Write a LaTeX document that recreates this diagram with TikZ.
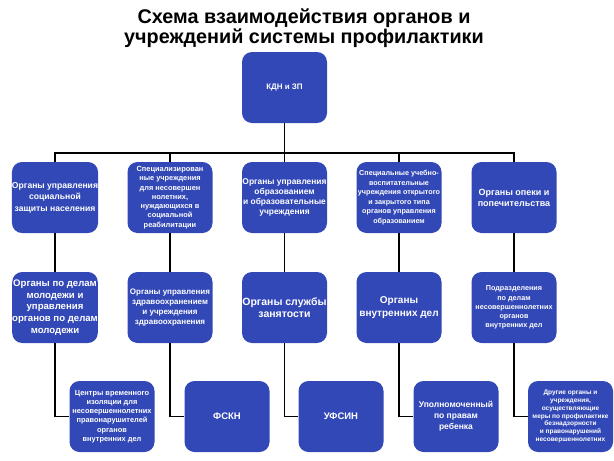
\documentclass[tikz,border=0pt]{standalone}
\usepackage{fontspec}
\setmainfont{Liberation Sans}
\usepackage{xcolor}
\usetikzlibrary{positioning}
\definecolor{boxblue}{RGB}{50,72,182}
\tikzset{
  orgbox/.style={rectangle,rounded corners=10pt,fill=boxblue,draw=none,
    minimum width=85pt,minimum height=71pt,inner sep=0pt,
    text=white,align=center,font=\bfseries},
  link/.style={draw=black,line width=1.8pt},
}
% #1 size, #2 leading
\newcommand{\bx}[2]{\fontsize{#1}{#2}\selectfont}
\begin{document}
\begin{tikzpicture}[x=1pt,y=-1pt]
  \useasboundingbox[fill=white] (0,0) rectangle (614,461);
  \node[align=center,font=\bfseries\fontsize{19.8}{16}\selectfont] (title) at (304,28)
    {Схема взаимодействия органов и\\учреждений системы профилактики};
  \node[orgbox,font=\bfseries\bx{8}{10}] (kdn) at (284.5,87.5) {КДН и ЗП};
  % first row
  \node[orgbox,font=\bfseries\bx{8.6}{11.5}] (a1) at (55,197.5)
    {Органы управления\\социальной\\защиты населения};
  \node[orgbox,font=\bfseries\bx{7.4}{9.3}] (a2) at (170,197.5)
    {Специализирован\\ные учреждения\\для несовершен\\нолетних,\\нуждающихся в\\социальной\\реабилитации};
  \node[orgbox,font=\bfseries\bx{8.4}{10}] (a3) at (284.5,197.5)
    {Органы управления\\образованием\\и образовательные\\учреждения};
  \node[orgbox,font=\bfseries\bx{7.2}{9.5}] (a4) at (399,197.5)
    {Специальные учебно-\\воспитательные\\учреждения открытого\\и закрытого типа\\органов управления\\образованием};
  \node[orgbox,font=\bfseries\bx{9}{11}] (a5) at (514,197.5)
    {Органы опеки и\\попечительства};
  % second row
  \node[orgbox,font=\bfseries\bx{9.6}{11.8}] (b1) at (55,307.5)
    {Органы по делам\\молодежи и\\управления\\органов по делам\\молодежи};
  \node[orgbox,font=\bfseries\bx{8}{9.8}] (b2) at (170,307.5)
    {Органы управления\\здравоохранением\\и учреждения\\здравоохранения};
  \node[orgbox,font=\bfseries\bx{10.5}{12.5}] (b3) at (284.5,307.5)
    {Органы службы\\занятости};
  \node[orgbox,font=\bfseries\bx{10}{13}] (b4) at (399,307.5)
    {Органы\\внутренних дел};
  \node[orgbox,font=\bfseries\bx{7.2}{9.2}] (b5) at (514,307.5)
    {Подразделения\\по делам\\несовершеннолетних\\органов\\внутренних дел};
  % third row
  \node[orgbox,font=\bfseries\bx{7.4}{9.2}] (c1) at (112,416.5)
    {Центры временного\\изоляции для\\несовершеннолетних\\правонарушителей\\органов\\внутренних дел};
  \node[orgbox,font=\bfseries\bx{9.5}{11}] (c2) at (227,416.5) {ФСКН};
  \node[orgbox,font=\bfseries\bx{9.5}{11}] (c3) at (341,416.5) {УФСИН};
  \node[orgbox,font=\bfseries\bx{8.5}{11}] (c4) at (456,416.5)
    {Уполномоченный\\по правам\\ребенка};
  \node[orgbox,font=\bfseries\bx{6.5}{7.8}] (c5) at (570.5,416.5)
    {Другие органы и\\учреждения,\\осуществляющие\\меры по профилактике\\безнадзорности\\и правонарушений\\несовершеннолетних};
  % connectors
  \coordinate (bus) at (284.5,153);
  \draw[link] (kdn.south) -- (bus);
  \foreach \i in {1,...,5}{
    \draw[link] (bus) -| (a\i.north);
    \draw[link] (a\i.south) -- (b\i.north);
    \draw[link] (b\i.south) |- (c\i.west);
  }
\end{tikzpicture}
\end{document}
